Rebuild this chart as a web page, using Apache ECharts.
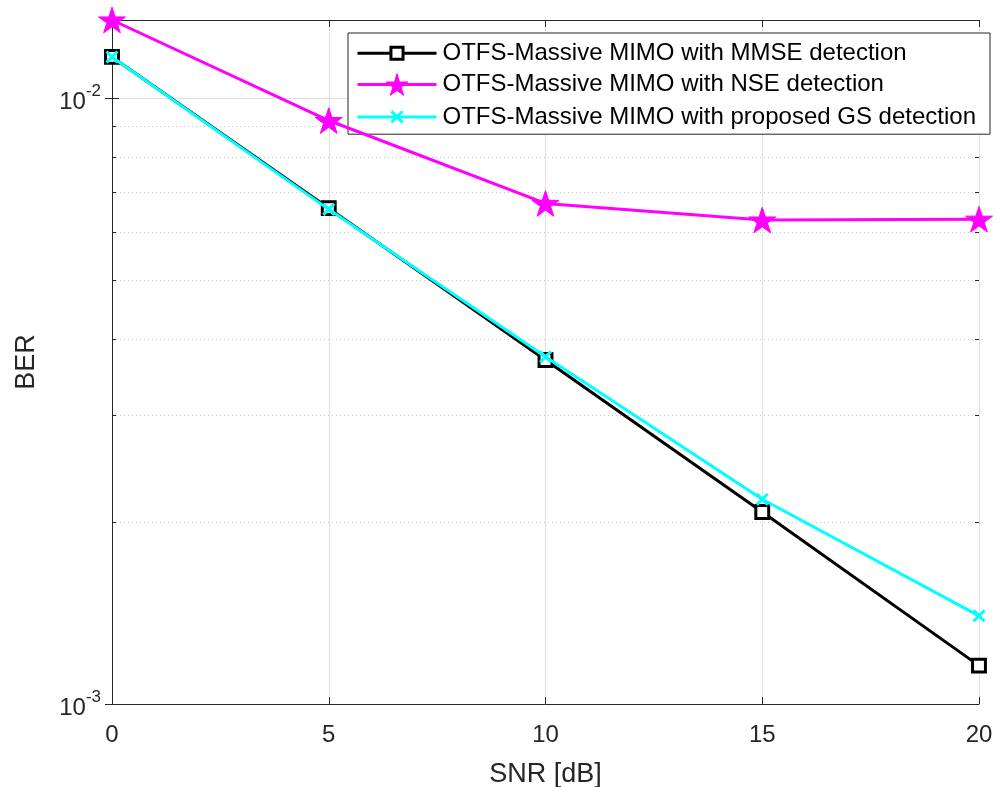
<!DOCTYPE html>
<html>
<head>
<meta charset="utf-8">
<script src="https://cdn.jsdelivr.net/npm/echarts@6/dist/echarts.min.js"></script>
<style>
html,body{margin:0;padding:0;background:#fff;}
#chart{width:997px;height:787px;}
</style>
</head>
<body>
<div id="chart"></div>
<script>
// ---- data ----
const snr = [0, 5, 10, 15, 20];
const berMMSE = [0.01169, 0.00658, 0.003695, 0.002074, 0.001157];
const berNSE  = [0.01345, 0.00918, 0.00670, 0.00629, 0.00631];
const berGS   = [0.01169, 0.00655, 0.00374, 0.002177, 0.001398];
const seriesNames = [
  'OTFS-Massive MIMO with MMSE detection',
  'OTFS-Massive MIMO with NSE detection',
  'OTFS-Massive MIMO with proposed GS detection'
];
const xTicks = [0, 5, 10, 15, 20];
const yMin = 0.001, yMax = 0.01345;
const minorY = [0.002, 0.003, 0.004, 0.005, 0.006, 0.007, 0.008, 0.009];

const FONT = 'Liberation Sans';
const AX = '#262626';
const pair = (xs, ys) => xs.map((x, i) => [x, ys[i]]);

// symbol paths (outer moveTo points pad the box so legend icons come out smaller)
const starPath = 'path://M50,0L61.2,34.5L97.6,34.5L68.2,55.9L79.4,90.5L50,69.1L20.6,90.5L31.8,55.9L2.4,34.5L38.8,34.5Z';
const squarePath = 'path://M0,0M100,100M22,22L78,22L78,78L22,78Z';
const crossPath = 'path://M0,0M100,100M24,24L76,76M76,24L24,76';

const chart = echarts.init(document.getElementById('chart'), null, {renderer: 'canvas'});

const option = {
  animation: false,
  backgroundColor: '#ffffff',
  textStyle: {fontFamily: FONT},
  grid: {left: 112, right: 18, top: 20, bottom: 83, show: false, containLabel: false, outerBoundsMode: 'none'},
  legend: {
    orient: 'vertical',
    left: 348, top: 33,
    padding: [8, 14, 4, 8],
    itemGap: 7,
    itemWidth: 79, itemHeight: 27,
    backgroundColor: '#ffffff',
    borderColor: AX, borderWidth: 1,
    textStyle: {fontFamily: FONT, fontSize: 24, color: '#000', padding: [0,0,0,1]},
    data: [
      {name: seriesNames[0], lineStyle: {width: 3, color: '#000000'},
       itemStyle: {color: '#ffffff', borderColor: '#000000', borderWidth: 3}},
      {name: seriesNames[1], lineStyle: {width: 3, color: '#ff00ff'},
       itemStyle: {color: '#ff00ff', borderColor: '#ff00ff', borderWidth: 1}},
      {name: seriesNames[2], lineStyle: {width: 3, color: '#00ffff'},
       itemStyle: {color: 'none', borderColor: '#00ffff', borderWidth: 3}}
    ]
  },
  xAxis: [{
    type: 'value', min: xTicks[0], max: xTicks[xTicks.length-1], interval: 5,
    name: 'SNR [dB]', nameLocation: 'middle', nameGap: 57,
    nameTextStyle: {fontFamily: FONT, fontSize: 27, color: AX},
    axisLine: {show: true, lineStyle: {color: AX, width: 1}},
    axisTick: {show: true, inside: true, length: 7, lineStyle: {color: AX}},
    axisLabel: {fontFamily: FONT, fontSize: 24, color: AX, margin: 19},
    splitLine: {show: true, lineStyle: {color: '#dfdfdf', width: 1}}
  }, {
    type: 'value', position: 'top', min: xTicks[0], max: xTicks[xTicks.length-1], interval: 5,
    axisLine: {show: true, lineStyle: {color: AX, width: 1}},
    axisTick: {show: true, inside: true, length: 7, lineStyle: {color: AX}},
    axisLabel: {show: false}, splitLine: {show: false}
  }],
  yAxis: [{
    type: 'log', logBase: 10, min: yMin, max: yMax,
    name: 'BER', nameLocation: 'middle', nameGap: 72, nameRotate: 90,
    nameTextStyle: {fontFamily: FONT, fontSize: 27, color: AX},
    axisLine: {show: true, lineStyle: {color: AX, width: 1}},
    axisTick: {show: true, inside: true, length: 7, lineStyle: {color: AX}},
    axisLabel: {
      showMaxLabel: false, margin: 11,
      formatter: function (v) {
        const e = Math.log10(v);
        if (Math.abs(e - Math.round(e)) > 1e-6) return '';
        return '{b|10}{s|' + Math.round(e) + '}';
      },
      rich: {
        b: {fontFamily: FONT, fontSize: 24, color: AX, lineHeight: 30, padding: [8,0,0,0]},
        s: {fontFamily: FONT, fontSize: 17, color: AX, lineHeight: 17, verticalAlign: 'top'}
      }
    },
    splitLine: {show: true, lineStyle: {color: '#dfdfdf', width: 1}}
  }, {
    type: 'log', logBase: 10, min: yMin, max: yMax, position: 'right',
    axisLine: {show: true, lineStyle: {color: AX, width: 1}},
    axisTick: {show: true, inside: true, length: 7, lineStyle: {color: AX}},
    axisLabel: {show: false}, splitLine: {show: false}
  }],
  series: [
    {
      type: 'custom', silent: true, z: 1, clip: false,
      xAxisIndex: 0, yAxisIndex: 0,
      data: minorY.map(v => [0, v]),
      encode: {x: 0, y: 1},
      renderItem: function (params, api) {
        const cs = params.coordSys;
        const y = Math.round(api.coord([0, api.value(1)])[1]) + 0.5;
        const x0 = cs.x, x1 = cs.x + cs.width;
        return {
          type: 'group',
          children: [
            {type: 'line', shape: {x1: x0, y1: y, x2: x1, y2: y},
             style: {stroke: '#c8c8c8', lineWidth: 1, lineDash: [1, 3]}},
            {type: 'line', shape: {x1: x0, y1: y, x2: x0 + 4, y2: y},
             style: {stroke: AX, lineWidth: 1}},
            {type: 'line', shape: {x1: x1 - 4, y1: y, x2: x1, y2: y},
             style: {stroke: AX, lineWidth: 1}}
          ]
        };
      }
    },
    {
      name: seriesNames[0], type: 'line', z: 3,
      data: pair(snr, berMMSE),
      lineStyle: {color: '#000000', width: 3},
      symbol: squarePath, symbolSize: 23, symbolKeepAspect: true,
      itemStyle: {color: '#ffffff', borderColor: '#000000', borderWidth: 3},
      color: '#000000'
    },
    {
      name: seriesNames[1], type: 'line', z: 4,
      data: pair(snr, berNSE),
      lineStyle: {color: '#ff00ff', width: 3},
      symbol: starPath, symbolSize: 27, symbolKeepAspect: true,
      itemStyle: {color: '#ff00ff', borderColor: '#ff00ff', borderWidth: 1},
      color: '#ff00ff'
    },
    {
      name: seriesNames[2], type: 'line', z: 5,
      data: pair(snr, berGS),
      lineStyle: {color: '#00ffff', width: 3},
      symbol: crossPath, symbolSize: 21, symbolKeepAspect: true,
      itemStyle: {color: 'none', borderColor: '#00ffff', borderWidth: 3},
      color: '#00ffff'
    }
  ]
};
chart.setOption(option);
</script>
</body>
</html>
